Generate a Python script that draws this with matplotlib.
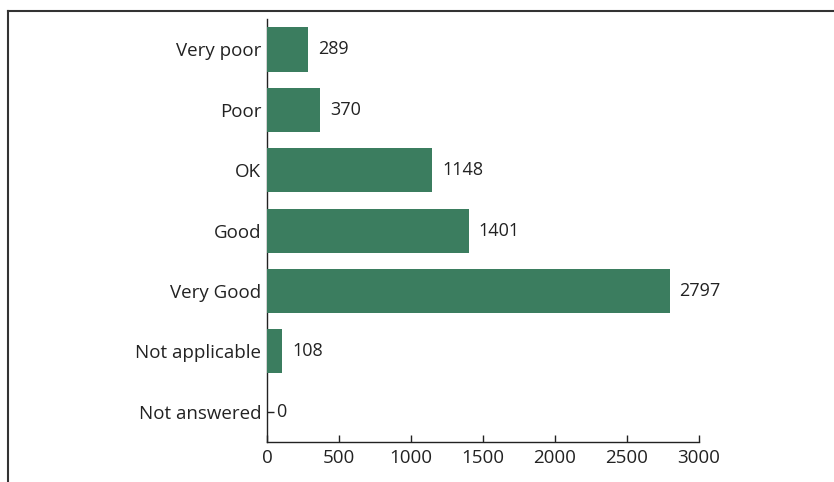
import matplotlib
matplotlib.use('Agg')
import matplotlib.pyplot as plt
from matplotlib.lines import Line2D

categories = ['Very poor', 'Poor', 'OK', 'Good', 'Very Good', 'Not applicable', 'Not answered']
counts = [289, 370, 1148, 1401, 2797, 108, 0]
x_ticks = [0, 500, 1000, 1500, 2000, 2500, 3000]

plt.rcParams['font.family'] = ['Open Sans', 'DejaVu Sans']
text_color = '#222222'
bar_color = '#3b7d5f'

fig = plt.figure(figsize=(8.34, 4.82), dpi=100)
ax = fig.add_axes([0.320, 0.083, 0.518, 0.877])

y_pos = list(range(len(categories)))
# bars above the tick marks so only the empty row shows its tick
ax.barh(y_pos, counts, height=0.73, color=bar_color, zorder=3)

# value labels next to each bar
for y, v in zip(y_pos, counts):
    ax.annotate(str(v), (v, y), xytext=(7, 0), textcoords='offset points',
                va='center', ha='left', fontsize=13, color=text_color)

ax.set_yticks(y_pos)
ax.set_yticklabels(categories)
ax.set_ylim(len(categories) - 0.5, -0.5)
ax.set_xlim(0, 3000)
ax.set_xticks(x_ticks)

for s in ['top', 'right']:
    ax.spines[s].set_visible(False)
for s in ['left', 'bottom']:
    ax.spines[s].set_color(text_color)
    ax.spines[s].set_linewidth(1.0)

ax.tick_params(axis='x', direction='in', length=5, width=1, colors=text_color,
               labelsize=13.5, labelcolor=text_color, pad=5)
ax.tick_params(axis='y', direction='in', length=5, width=1, colors=text_color,
               labelsize=13.5, labelcolor=text_color, pad=4)

# outer frame (left and top only)
fig.add_artist(Line2D([0.0096, 0.0096], [0.0, 0.977], color='#333333', lw=1.5, transform=fig.transFigure))
fig.add_artist(Line2D([0.0096, 1.0], [0.977, 0.977], color='#333333', lw=1.5, transform=fig.transFigure))

fig.savefig('out.png', dpi=100, facecolor='white')
